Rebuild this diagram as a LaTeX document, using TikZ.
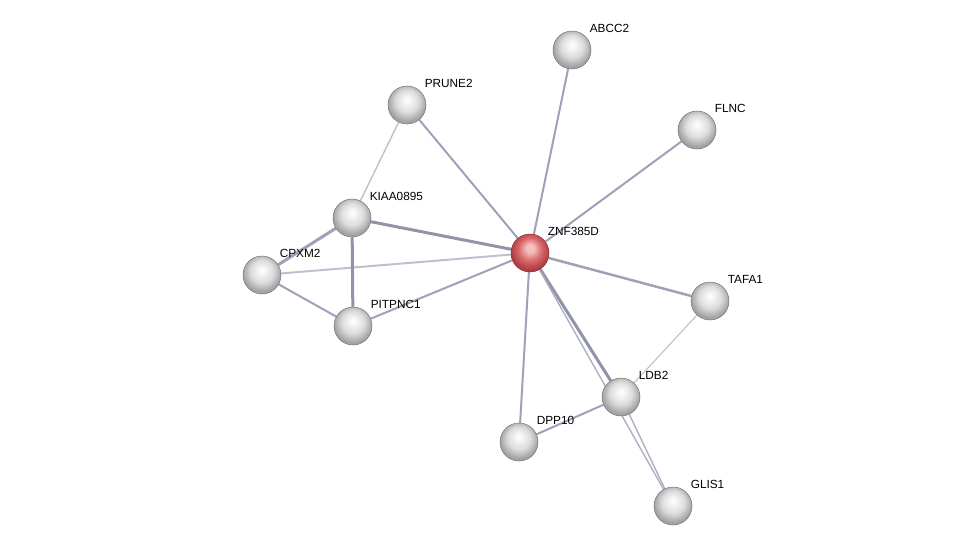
\documentclass[tikz,border=0pt]{standalone}
\usepackage{fontspec}
\setmainfont{Liberation Sans}
\usetikzlibrary{backgrounds}
\usepackage{xcolor}

\definecolor{edgeblue}{RGB}{158,161,184}
\definecolor{edgelight}{RGB}{190,192,208}
\definecolor{rimgray}{RGB}{115,115,115}
\definecolor{rimred}{RGB}{135,45,48}
\definecolor{redhi}{RGB}{246,190,192}
\definecolor{redmid}{RGB}{218,105,110}
\definecolor{redlo}{RGB}{175,62,66}
\pgfdeclareradialshading{greyball}{\pgfpoint{0bp}{7bp}}{color(0bp)=(white); color(5bp)=(white!96!black); color(15bp)=(white!86!black); color(25bp)=(white!64!black); color(50bp)=(white!64!black)}
\pgfdeclareradialshading{redball}{\pgfpoint{0bp}{7bp}}{color(0bp)=(redhi); color(5bp)=(redhi); color(15bp)=(redmid); color(25bp)=(redlo); color(50bp)=(redlo)}

\begin{document}
\begin{tikzpicture}[x=1pt, y=-1pt,
    protein/.style={circle, minimum size=38pt, inner sep=0pt, shade, shading=greyball, draw=rimgray, line width=0.5pt},
    query/.style={protein, shading=redball, draw=rimred},
    tag/.style={font=\fontsize{11.8}{14}\selectfont, inner sep=0pt, anchor=base west, xshift=4pt, yshift=4pt},
    link/.style={edgeblue, line width=2pt},
    strong/.style={edgeblue!92!black, line width=3pt},
    weak/.style={edgelight, line width=1.4pt}
]
\useasboundingbox (0,0) rectangle (976,551);

\node[query] (znf) at (530,253) [label={[tag]45:ZNF385D}] {};
\node[protein] (abcc2) at (572,50) [label={[tag]45:ABCC2}] {};
\node[protein] (prune2) at (407,105) [label={[tag]45:PRUNE2}] {};
\node[protein] (flnc) at (697,130) [label={[tag]45:FLNC}] {};
\node[protein] (kiaa) at (352,218) [label={[tag]45:KIAA0895}] {};
\node[protein] (cpxm2) at (262,275) [label={[tag]45:CPXM2}] {};
\node[protein] (tafa1) at (710,301) [label={[tag]45:TAFA1}] {};
\node[protein] (pitpnc1) at (353,326) [label={[tag]45:PITPNC1}] {};
\node[protein] (ldb2) at (621,397) [label={[tag]45:LDB2}] {};
\node[protein] (dpp10) at (519,442) [label={[tag]45:DPP10}] {};
\node[protein] (glis1) at (673,506) [label={[tag]45:GLIS1}] {};

\begin{pgfonlayer}{background}
\draw[link] (znf) -- (abcc2);
\draw[link] (znf) -- (flnc);
\draw[link] (znf) -- (prune2);
\draw[strong] (znf) -- (kiaa);
\draw[link, edgelight] (znf) -- (cpxm2);
\draw[link] (znf) -- (pitpnc1);
\draw[link, line width=2.5pt] (znf) -- (tafa1);
\draw[strong] (znf) -- (ldb2);
\draw[weak, edgeblue!85] (znf) -- (glis1);
\draw[link] (znf) -- (dpp10);
\draw[weak] (prune2) -- (kiaa);
\draw[strong, edgeblue] (kiaa) -- (cpxm2);
\draw[strong] (kiaa) -- (pitpnc1);
\draw[link] (cpxm2) -- (pitpnc1);
\draw[weak, line width=1.1pt] (tafa1) -- (ldb2);
\draw[link] (ldb2) -- (dpp10);
\draw[weak, edgeblue!85] (ldb2) -- (glis1);
\end{pgfonlayer}
\end{tikzpicture}
\end{document}
